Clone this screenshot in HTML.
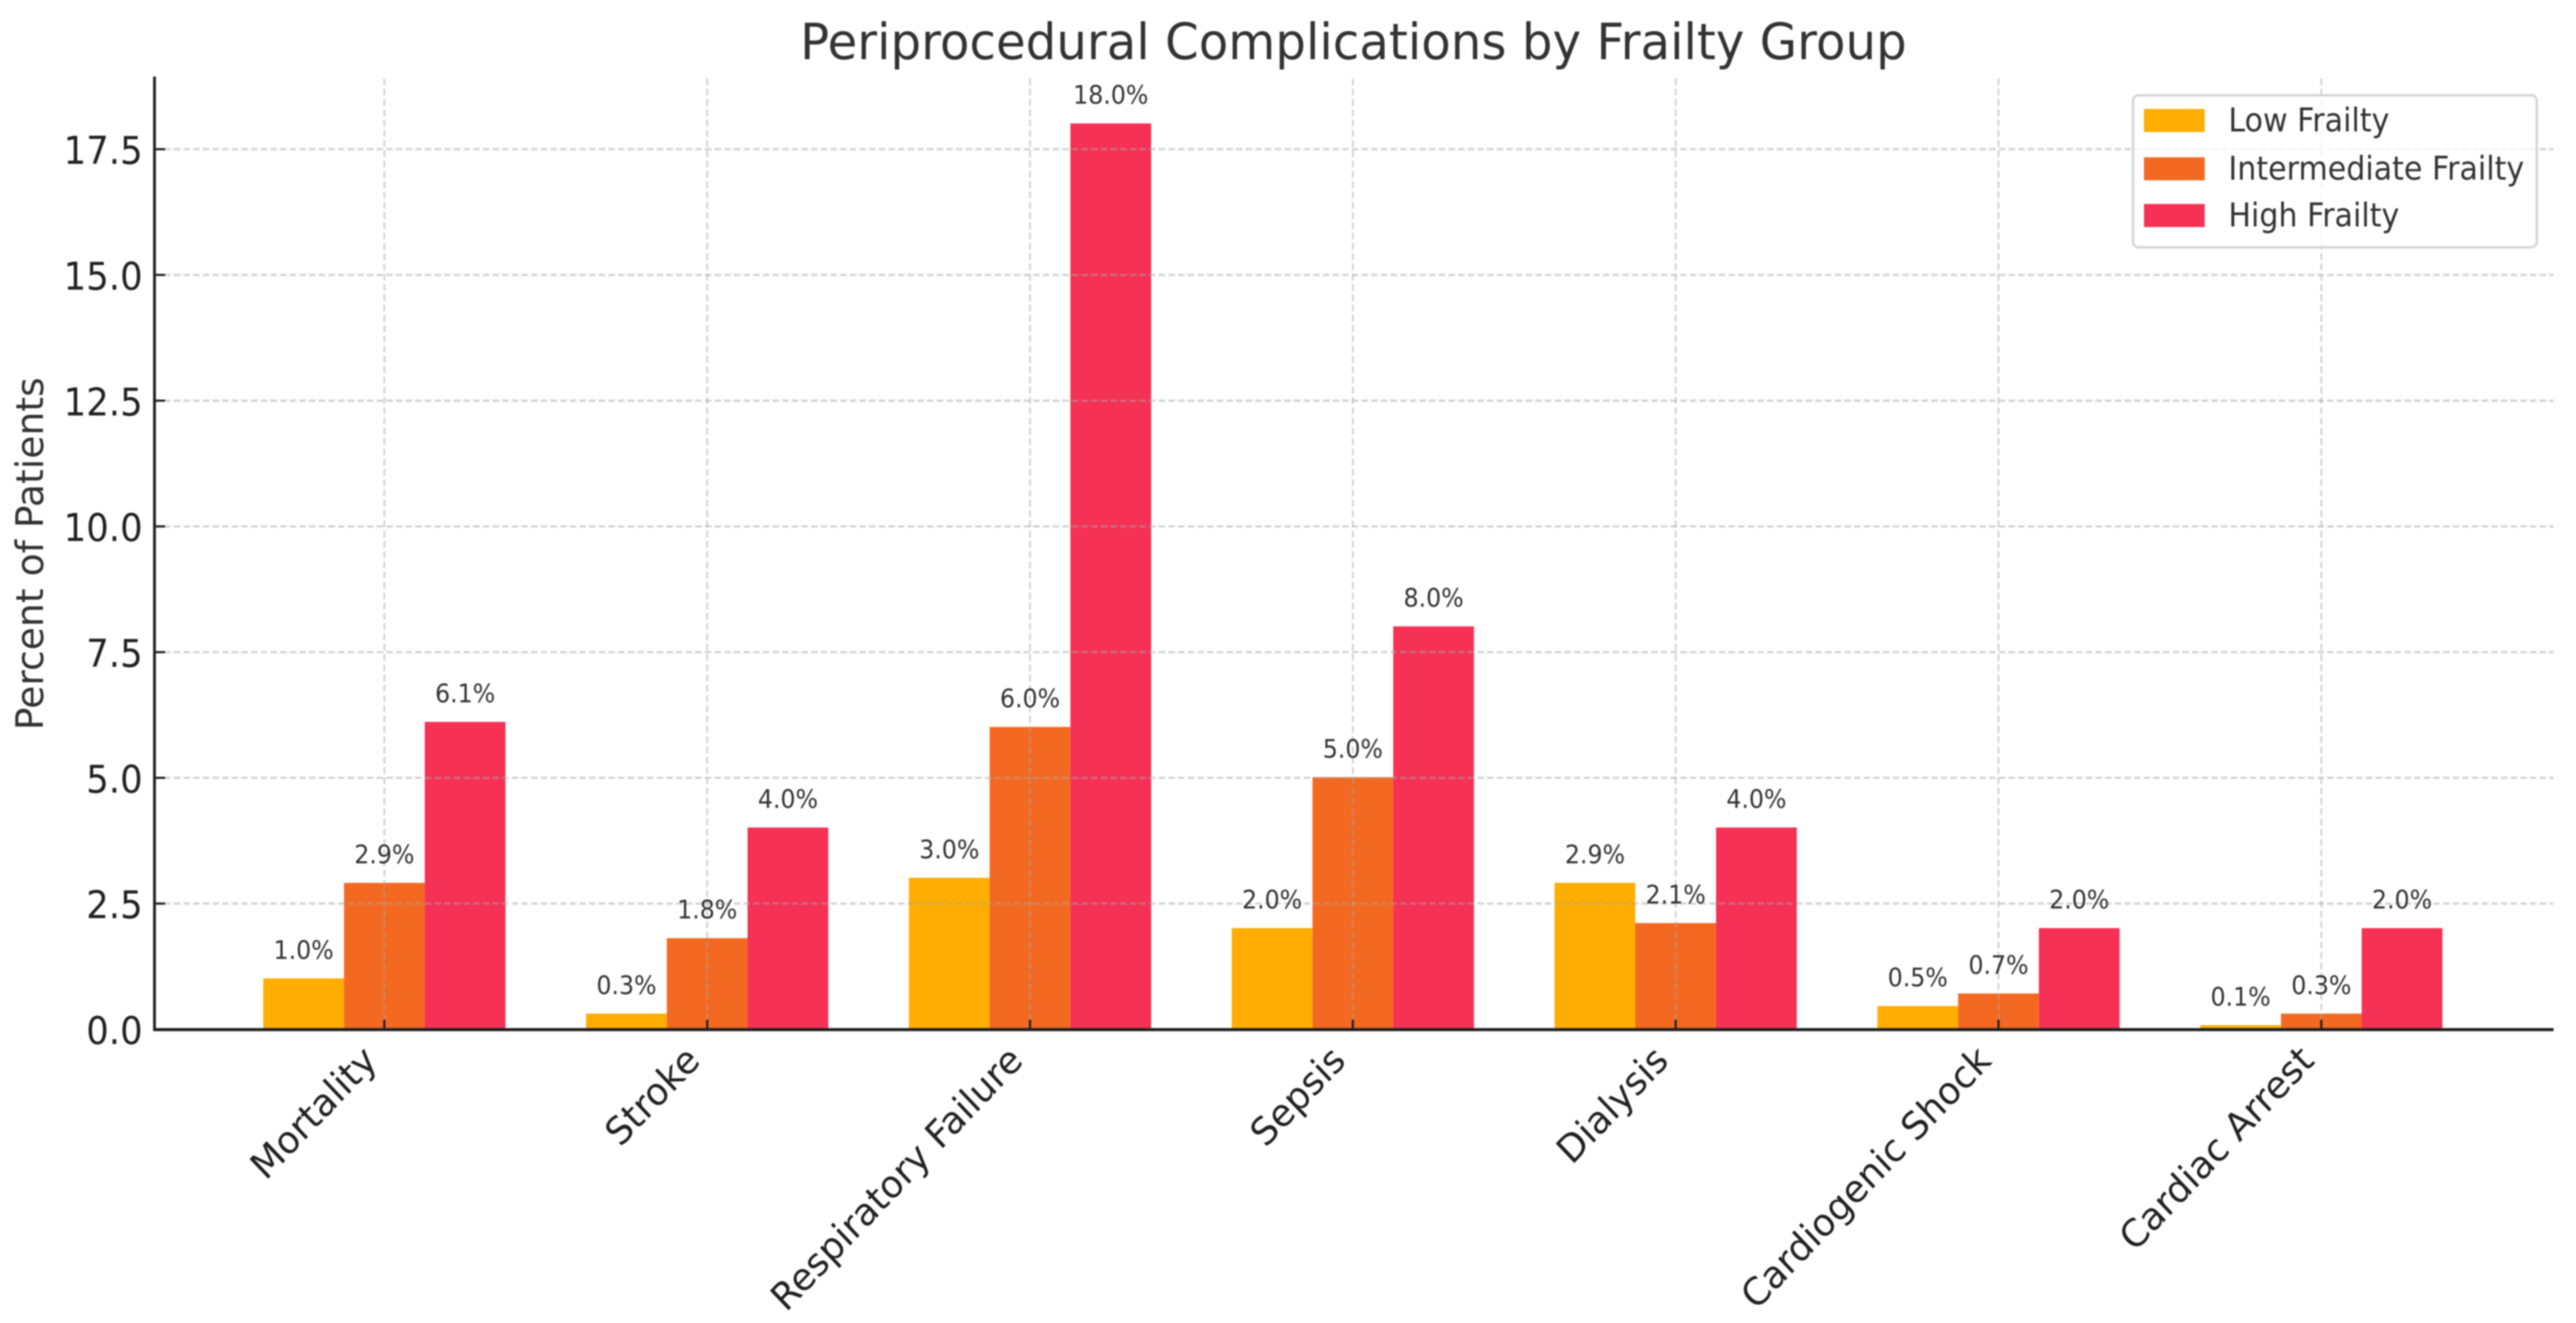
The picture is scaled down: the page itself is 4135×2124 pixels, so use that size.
<!DOCTYPE html>
<html lang="en">
<head>
<meta charset="utf-8">
<title>Periprocedural Complications by Frailty Group</title>
<style>
html,body{margin:0;padding:0;background:#fff;width:4135px;height:2124px;overflow:hidden}
svg{display:block;filter:blur(1px)}
text{font-family:"DejaVu Sans","Liberation Sans",sans-serif}
</style>
</head>
<body>
<svg id="chart" xmlns="http://www.w3.org/2000/svg" width="4135" height="2124" viewBox="0 0 4135 2124">
  <rect x="0" y="0" width="4135" height="2124" fill="#fff"/>
  <g id="bars"></g>
  <g id="grid"></g>
  <g id="axes"></g>
  <g id="value-labels"></g>
  <text transform="translate(2172.5,95) scale(1,1.04)" text-anchor="middle" font-size="77.5" fill="#333">Periprocedural Complications by Frailty Group</text>
  <text transform="translate(69,889) rotate(-90)" text-anchor="middle" font-size="60.5" fill="#333">Percent of Patients</text>
  <g id="legend">
    <rect x="3424" y="153" width="648" height="244" rx="9" ry="9" fill="#fff" fill-opacity="0.8" stroke="#d6d6d6" stroke-width="4"/>
  </g>
</svg>
<script>
const categories = ["Mortality", "Stroke", "Respiratory Failure", "Sepsis", "Dialysis", "Cardiogenic Shock", "Cardiac Arrest"];
const seriesNames = ["Low Frailty", "Intermediate Frailty", "High Frailty"];
const lowFrailty = [1.0, 0.3, 3.0, 2.0, 2.9, 0.45, 0.07];
const intermediateFrailty = [2.9, 1.8, 6.0, 5.0, 2.1, 0.7, 0.3];
const highFrailty = [6.1, 4.0, 18.0, 8.0, 4.0, 2.0, 2.0];
const yTicks = [0, 2.5, 5, 7.5, 10, 12.5, 15, 17.5];

const NS = "http://www.w3.org/2000/svg";
const seriesValues = [lowFrailty, intermediateFrailty, highFrailty];
const seriesColors = ["#ffad00", "#f46921", "#f53155"];
const plot = {left: 248, right: 4099, top: 126, bottom: 1653};
const xAxis = i => 617 + 518.2 * i;
const yAxis = v => 1652.5 - 80.74 * v;
const barWidth = 129.6;

function make(parent, tag, attrs, content) {
  const el = document.createElementNS(NS, tag);
  for (const k in attrs) el.setAttribute(k, attrs[k]);
  if (content !== undefined) el.textContent = content;
  parent.appendChild(el);
  return el;
}
const slug = s => s.toLowerCase().replace(/\s+/g, "-");

const barsLayer = document.getElementById("bars");
const gridLayer = document.getElementById("grid");
const axesLayer = document.getElementById("axes");
const labelsLayer = document.getElementById("value-labels");
const legendLayer = document.getElementById("legend");

seriesValues.forEach((vals, s) => {
  vals.forEach((v, i) => {
    const cx = xAxis(i) + (s - 1) * barWidth;
    const top = yAxis(v) - 1;
    const bar = make(barsLayer, "rect", {x: cx - barWidth / 2, y: top, width: barWidth, height: yAxis(0) - top, fill: seriesColors[s]});
    
    
    const lab = make(labelsLayer, "text", {transform: "translate(" + cx + "," + (top - 31.5) + ") scale(1,1.08)", "text-anchor": "middle", "font-size": 38, fill: "#333"}, v.toFixed(1) + "%");
    
    
  });
});

yTicks.forEach(t => {
  const y = yAxis(t);
  if (t > 0) {
    const g = make(gridLayer, "line", {x1: plot.left, x2: plot.right, y1: y, y2: y, stroke: "#a8a8a8", "stroke-opacity": 0.5, "stroke-width": 3.5, "stroke-dasharray": "10.5 5"});
    
    
  }
  const tick = make(axesLayer, "line", {x1: plot.left, x2: plot.left + 17, y1: y, y2: y, stroke: "#222", "stroke-width": 3.5});
  
  
  const lab = make(axesLayer, "text", {transform: "translate(229," + (y + 23.5) + ") scale(1,1.08)", "text-anchor": "end", "font-size": 57, fill: "#222"}, t.toFixed(1));
  
  
});

categories.forEach((c, i) => {
  const x = xAxis(i);
  const g = make(gridLayer, "line", {x1: x, x2: x, y1: plot.top, y2: plot.bottom, stroke: "#a8a8a8", "stroke-opacity": 0.5, "stroke-width": 3, "stroke-dasharray": "11 5.5"});
  
  
  const tick = make(axesLayer, "line", {x1: x, x2: x, y1: plot.bottom, y2: plot.bottom - 16, stroke: "#222", "stroke-width": 3.5});
  
  
  const lab = make(axesLayer, "text", {transform: "translate(" + (x - 40) + ",1673) scale(1,1.05) rotate(-45)", "text-anchor": "end", dy: "0.76em", "font-size": 58, fill: "#222"}, c);
  
  
});

const leftSpine = make(axesLayer, "line", {x1: plot.left, x2: plot.left, y1: 123, y2: 1655, stroke: "#222", "stroke-width": 4.5});


const bottomSpine = make(axesLayer, "line", {x1: plot.left - 2, x2: plot.right, y1: plot.bottom, y2: plot.bottom, stroke: "#222", "stroke-width": 5});



const legendBaselines = [211, 288.5, 363.5];
seriesNames.forEach((n, s) => {
  const b = legendBaselines[s];
  const swatch = make(legendLayer, "rect", {x: 3441.5, y: b - 36, width: 97.5, height: 37, fill: seriesColors[s]});
  
  
  const t = make(legendLayer, "text", {transform: "translate(3577," + b + ") scale(1,1.08)", "font-size": 48.3, fill: "#333"}, n);
  
  
});
</script>
</body>
</html>
